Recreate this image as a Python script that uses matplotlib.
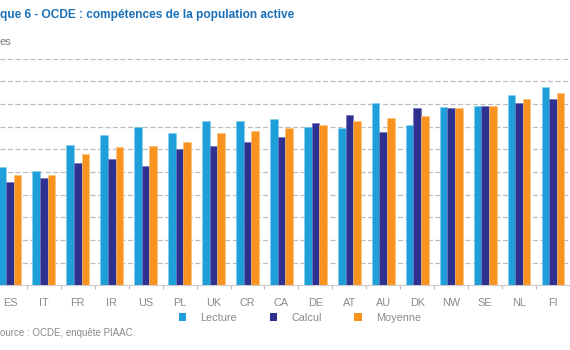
import numpy as np
import matplotlib.pyplot as plt
from matplotlib.patches import Patch

# pays et scores PIAAC
pays = ['ES', 'IT', 'FR', 'IR', 'US', 'PL', 'UK', 'CR', 'CA',
        'DE', 'AT', 'AU', 'DK', 'NW', 'SE', 'NL', 'FI']
lecture = [252, 250.5, 262, 266.5, 270, 267, 272.5, 272.7, 273.5,
           270, 269.4, 280.5, 270.8, 278.6, 279.3, 284, 287.5]
calcul = [245.7, 247.2, 254.1, 255.6, 252.8, 260, 261.6, 263.4, 265.5,
          271.8, 275, 267.7, 278.3, 278.3, 279, 280.3, 282.2]
moyenne = [248.8, 248.8, 258.1, 261, 261.4, 263.4, 267, 268.1, 269.4,
           270.8, 272.4, 274, 274.6, 278.3, 279, 282.1, 284.9]

c_lec = '#1f9fd9'
c_cal = '#2e3190'
c_moy = '#f7931e'
gris = '#8a8a8a'

plt.rcParams['font.family'] = ['Liberation Sans', 'DejaVu Sans']

fig = plt.figure(figsize=(5.7, 3.5), dpi=100)
ax = fig.add_axes([0, 0.1849, 1, 0.8323 - 0.1849])

x = np.arange(len(pays))
w = 0.224
ax.bar(x - w, lecture, w, color=c_lec, edgecolor='#7fd0f0', linewidth=0.4, zorder=3)
ax.bar(x, calcul, w, color=c_cal, edgecolor='#6a6cb8', linewidth=0.4, zorder=3)
ax.bar(x + w, moyenne, w, color=c_moy, edgecolor='#fbc27a', linewidth=0.4, zorder=3)

ax.set_ylim(200, 300)
ax.set_xlim(-10 / 34.33, 560 / 34.33)
ax.set_yticks(np.arange(210, 301, 10))
ax.yaxis.grid(True, color='#bdbdbd', linestyle=(0, (4, 2)), linewidth=0.9, zorder=0)
ax.tick_params(axis='y', left=False, labelleft=False)

# graduations entre les groupes, libellés centrés
ax.set_xticks(x + 0.5, minor=False)
ax.set_xticklabels([])
ax.tick_params(axis='x', which='major', length=3, color='#bbbbbb', width=0.8)
ax.set_xticks(x, minor=True)
ax.set_xticklabels(pays, minor=True)
ax.tick_params(axis='x', which='minor', length=0, pad=9, labelsize=7.8, labelcolor=gris)

for s in ['top', 'right', 'left']:
    ax.spines[s].set_visible(False)
ax.spines['bottom'].set_color('#cccccc')
ax.spines['bottom'].set_linewidth(0.8)

# textes tels qu'ils apparaissent (image recadrée à gauche)
fig.text(0, 1 - 15 / 350, 'que 6 - OCDE : compétences de la population active',
         ha='left', va='center', fontsize=8.6, fontweight='bold', color='#1b70b7',
         family=['Liberation Sans Narrow', 'Liberation Sans'])
fig.text(0, 1 - 42 / 350, 'es', ha='left', va='center', fontsize=8, color='#7a7a7a')
fig.text(0, 1 - 333 / 350, 'ource : OCDE, enquête PIAAC.', ha='left', va='center',
         fontsize=7, color=gris)

handles = [Patch(facecolor=c_lec), Patch(facecolor=c_cal), Patch(facecolor=c_moy)]
fig.legend(handles, ['Lecture', 'Calcul', 'Moyenne'], ncol=3, frameon=False,
           loc='center', bbox_to_anchor=(300 / 570, 1 - 318 / 350),
           handlelength=0.7, handleheight=0.7, handletextpad=1.3, columnspacing=3.0,
           fontsize=7.8, labelcolor=gris)

fig.savefig('out.png', dpi=100)
